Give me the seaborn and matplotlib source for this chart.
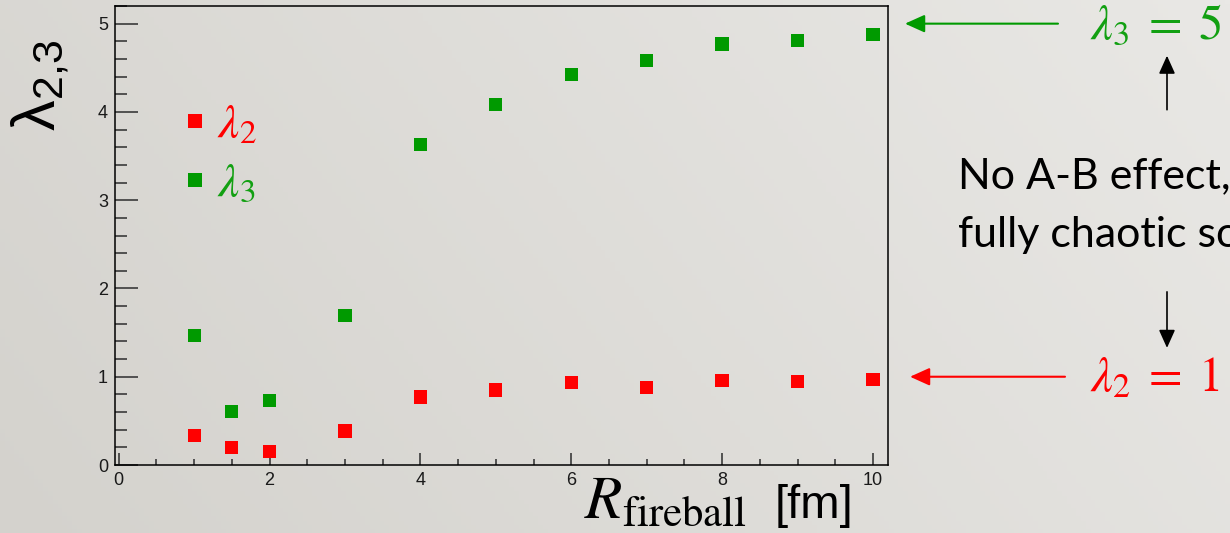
import numpy as np
import pandas as pd
import matplotlib
matplotlib.use("Agg")
import matplotlib.pyplot as plt
from matplotlib.ticker import MultipleLocator
import seaborn as sns

# Fireball radius [fm] and the fitted intercept parameters
radius = [1, 1.5, 2, 3, 4, 5, 6, 7, 8, 9, 10]
lambda2 = [0.33, 0.20, 0.15, 0.385, 0.77, 0.85, 0.93, 0.88, 0.96, 0.95, 0.97]
lambda3 = [1.47, 0.61, 0.73, 1.69, 3.63, 4.08, 4.42, 4.58, 4.77, 4.81, 4.88]
series_labels = [r"$\lambda_2$", r"$\lambda_3$"]
x_ticks = [0, 2, 4, 6, 8, 10]
y_ticks = [0, 1, 2, 3, 4, 5]
limit_lambda2 = 1
limit_lambda3 = 5

RED = "#ff0000"
GREEN = "#009a00"
TEXT_GREEN = "#12a012"

plt.rcParams["font.family"] = ["Liberation Sans", "DejaVu Sans"]
plt.rcParams["mathtext.fontset"] = "stix"

df = pd.DataFrame({
    "R": radius * 2,
    "lam": lambda2 + lambda3,
    "series": [series_labels[0]] * len(radius) + [series_labels[1]] * len(radius),
})

W, H = 1230, 533
fig = plt.figure(figsize=(W / 100, H / 100), dpi=100)

# soft grey slide background
bg = fig.add_axes([0, 0, 1, 1], zorder=-10)
gx = np.linspace(0, 1, 256)[None, :, None]
gy = np.linspace(0, 1, 128)[:, None, None]
left = np.array([212, 210, 205]) / 255
right = np.array([233, 232, 229]) / 255
grad = left + (right - left) * (0.75 * gx + 0.25 * gy)
bg.imshow(grad, aspect="auto", extent=[0, 1, 0, 1], origin="lower")
bg.axis("off")

ax = fig.add_axes([115 / W, (H - 465) / H, (888 - 115) / W, (465 - 6) / H])
ax.set_facecolor("none")

sns.scatterplot(data=df, x="R", y="lam", hue="series",
                palette={series_labels[0]: RED, series_labels[1]: GREEN},
                marker="s", s=90, linewidth=0, ax=ax, zorder=3)

ax.set_xlim(-0.05, 10.2)
ax.set_ylim(0, 5.2)
ax.set_xticks(x_ticks)
ax.set_yticks(y_ticks)
ax.xaxis.set_minor_locator(MultipleLocator(0.5))
ax.yaxis.set_minor_locator(MultipleLocator(0.2))
ax.set_xlabel("")
ax.set_ylabel("")
ax.tick_params(axis="both", which="both", direction="in", labelsize=13,
               labelcolor="#1a1a1a", color="#3a3a3a", pad=5, top=False, right=False)
ax.tick_params(axis="y", which="major", length=16.5, width=1.2)
ax.tick_params(axis="y", which="minor", length=8.5, width=1.2)
ax.tick_params(axis="x", which="major", length=8.5, width=1.2)
ax.tick_params(axis="x", which="minor", length=4.5, width=1.2)
for sp in ax.spines.values():
    sp.set_linewidth(1.1)
    sp.set_color("black")

handles, labels = ax.get_legend_handles_labels()
leg = ax.legend(handles, labels, loc="center left",
                bbox_to_anchor=((182 - 115) / 773, (465 - 155) / 459),
                frameon=False, fontsize=34, borderpad=0, borderaxespad=0,
                handlelength=0.55, handletextpad=0.2, labelspacing=0.3)
for txt, col in zip(leg.get_texts(), [RED, TEXT_GREEN]):
    txt.set_color(col)

# axis titles
fig.text(40 / W, 1 - 85 / H, "λ$_{\\mathregular{2{,}3}}$", rotation=90,
         fontsize=44, ha="center", va="center", color="black")
fig.text(747 / W, (H - 518) / H, r"$R_{\mathrm{fireball}}$", fontsize=44,
         ha="right", va="baseline", color="black")
fig.text(853 / W, (H - 518) / H, "[fm]", fontsize=34,
         ha="right", va="baseline", color="black")

# asymptotic values on the right
def axfrac(px):
    return (px - 115) / 773

mix = ("axes fraction", "data")
ax.annotate("", xy=(axfrac(905), limit_lambda3), xytext=(axfrac(1058), limit_lambda3),
            xycoords=mix, textcoords=mix, annotation_clip=False,
            arrowprops=dict(arrowstyle="-|>,head_length=1.0,head_width=0.45",
                            mutation_scale=12, lw=1.5, color=GREEN,
                            shrinkA=0, shrinkB=0))
ax.annotate("", xy=(axfrac(910), limit_lambda2), xytext=(axfrac(1065), limit_lambda2),
            xycoords=mix, textcoords=mix, annotation_clip=False,
            arrowprops=dict(arrowstyle="-|>,head_length=1.0,head_width=0.45",
                            mutation_scale=12, lw=1.5, color=RED,
                            shrinkA=0, shrinkB=0))
ax.text(axfrac(1090), limit_lambda3 - 0.03, r"$\lambda_3\;=\;%d$" % limit_lambda3,
        transform=ax.get_yaxis_transform(), fontsize=35, color=TEXT_GREEN,
        ha="left", va="center", clip_on=False)
ax.text(axfrac(1090), limit_lambda2 - 0.03, r"$\lambda_2\;=\;%d$" % limit_lambda2,
        transform=ax.get_yaxis_transform(), fontsize=35, color=RED,
        ha="left", va="center", clip_on=False)

def ypx(py):
    return (465 - py) / 88.2

ax.annotate("", xy=(axfrac(1167), ypx(56)), xytext=(axfrac(1167), ypx(110)),
            xycoords=mix, textcoords=mix, annotation_clip=False,
            arrowprops=dict(arrowstyle="-|>,head_length=1.0,head_width=0.45",
                            mutation_scale=11, lw=1.2, color="black",
                            shrinkA=0, shrinkB=0))
ax.annotate("", xy=(axfrac(1167), ypx(348)), xytext=(axfrac(1167), ypx(292)),
            xycoords=mix, textcoords=mix, annotation_clip=False,
            arrowprops=dict(arrowstyle="-|>,head_length=1.0,head_width=0.45",
                            mutation_scale=11, lw=1.2, color="black",
                            shrinkA=0, shrinkB=0))

fig.text(958 / W, (H - 188) / H, "No A-B effect,", fontsize=31,
         family=["Lato", "DejaVu Sans"], ha="left", va="baseline", color="black")
fig.text(958 / W, (H - 247) / H, "fully chaotic source", fontsize=31,
         family=["Lato", "DejaVu Sans"], ha="left", va="baseline", color="black")

fig.savefig("out.png", dpi=100)
